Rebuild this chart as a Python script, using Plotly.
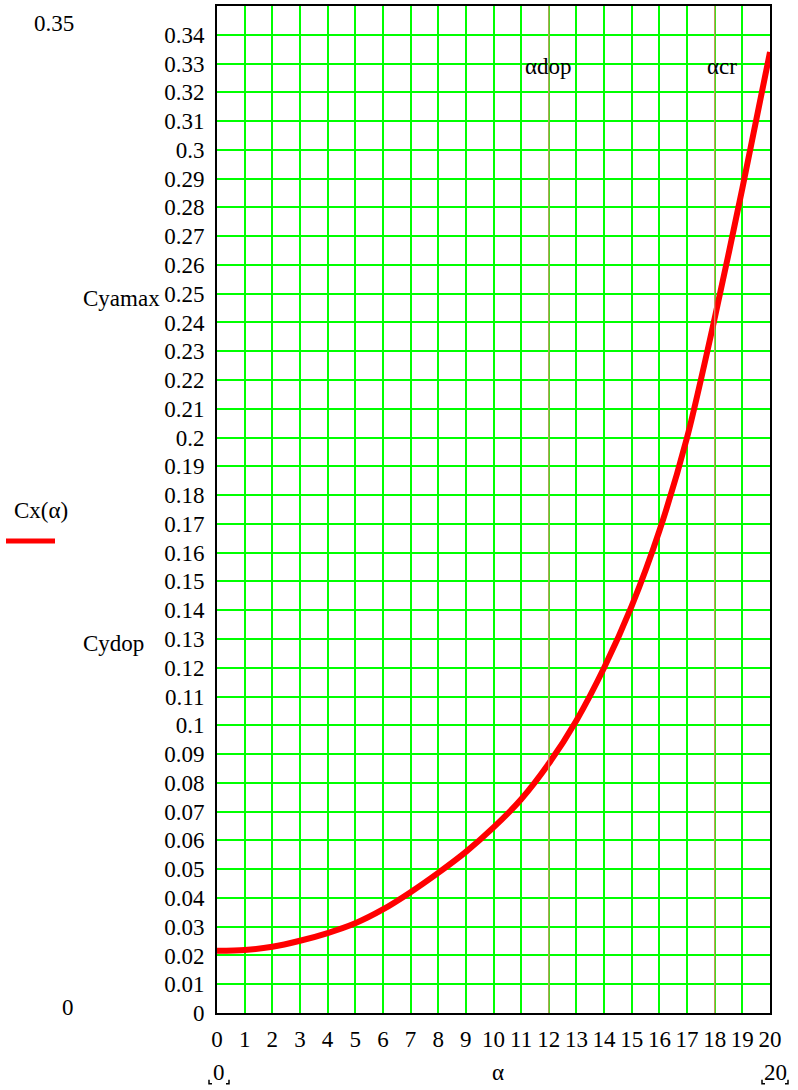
import plotly.graph_objects as go

# Data
alpha = [0, 1, 2, 3, 4, 5, 6, 7, 8, 9, 10, 11, 12, 13, 14, 15, 16, 17, 18, 19, 20]
cx = [0.0216, 0.0219, 0.0230, 0.0251, 0.0278, 0.0312, 0.0360, 0.0420, 0.0487, 0.0560,
      0.0645, 0.0743, 0.0867, 0.1017, 0.1200, 0.1415, 0.1676, 0.2000, 0.2415, 0.2866, 0.3340]
alpha_dop = 12
alpha_cr = 18
x_ticks = list(range(0, 21))
y_ticks = [round(i * 0.01, 2) for i in range(0, 35)]

FONT = "Liberation Serif, Times New Roman, serif"
FS = 23

fig = go.Figure()
fig.add_trace(go.Scatter(x=alpha, y=cx, mode="lines",
                         line=dict(color="#FF0000", width=6, shape="spline", smoothing=0.8),
                         showlegend=False, hoverinfo="skip"))

W, H = 798, 1090
L, R, T, B = 217, 28, 4, 77
pw, ph = W - L - R, H - T - B

def px(x):
    return (x - L) / pw

def py(y):
    return (H - B - y) / ph

fig.update_layout(
    width=W, height=H,
    margin=dict(l=L, r=R, t=T, b=B),
    plot_bgcolor="white", paper_bgcolor="white",
    font=dict(family=FONT, size=FS, color="black"),
    xaxis=dict(range=[0, 20], tickvals=x_ticks, ticktext=[str(v) for v in x_ticks],
               showgrid=True, gridcolor="#00FF00", gridwidth=2,
               showline=True, linecolor="black", linewidth=2, mirror=True,
               ticks="", ticklabelstandoff=4, zeroline=False,
               tickfont=dict(family=FONT, size=FS)),
    yaxis=dict(range=[0, 0.35], tickvals=y_ticks, ticktext=[f"{v:g}" for v in y_ticks],
               showgrid=True, gridcolor="#00FF00", gridwidth=2,
               showline=True, linecolor="black", linewidth=2, mirror=True,
               ticks="", ticklabelstandoff=6, zeroline=False,
               tickfont=dict(family=FONT, size=FS)),
)

# marker lines alpha_dop and alpha_cr
for xv in (alpha_dop, alpha_cr):
    fig.add_shape(type="line", xref="x", yref="paper", x0=xv, x1=xv, y0=0, y1=1,
                  line=dict(color="#D89068", width=1.2), layer="above")

anns = [
    ("αdop", alpha_dop, 0.329),
    ("αcr", 18.25, 0.329),
]
for txt, xv, yv in anns:
    fig.add_annotation(text=txt, x=xv, xref="x", y=yv, yref="y", showarrow=False,
                       xanchor="center", yanchor="middle", font=dict(family=FONT, size=FS))

paper_texts = [
    ("0.35", 54, 22),
    ("0", 68, 1007),
    ("Cyamax", 121, 297),
    ("Cydop", 114, 643),
    ("Cx(α)", 41, 510),
    ("0", 219, 1073),
    ("α", 498, 1073),
    ("20", 775, 1073),
]
for txt, x, y in paper_texts:
    fig.add_annotation(text=txt, x=px(x), y=py(y), xref="paper", yref="paper",
                       showarrow=False, xanchor="center", yanchor="middle",
                       font=dict(family=FONT, size=FS))

# legend line under Cx(alpha)
fig.add_shape(type="line", xref="paper", yref="paper", x0=px(6), x1=px(55),
              y0=py(540), y1=py(540), line=dict(color="#FF0000", width=5))

# placeholder brackets around the x-range limits
def bracket(xl, xr, ytop, ybot):
    for xx, dx in ((xl, 3), (xr, -3)):
        fig.add_shape(type="path", xref="paper", yref="paper",
                      path=f"M {px(xx)},{py(ytop)} L {px(xx)},{py(ybot)} L {px(xx+dx)},{py(ybot)}",
                      line=dict(color="black", width=1.5))

bracket(209, 229, 1080, 1084)
bracket(762, 788, 1080, 1084)

fig.write_html("out.html", config={"displayModeBar": False},
               post_script="document.body.style.margin='0px';document.body.style.padding='0px';")
